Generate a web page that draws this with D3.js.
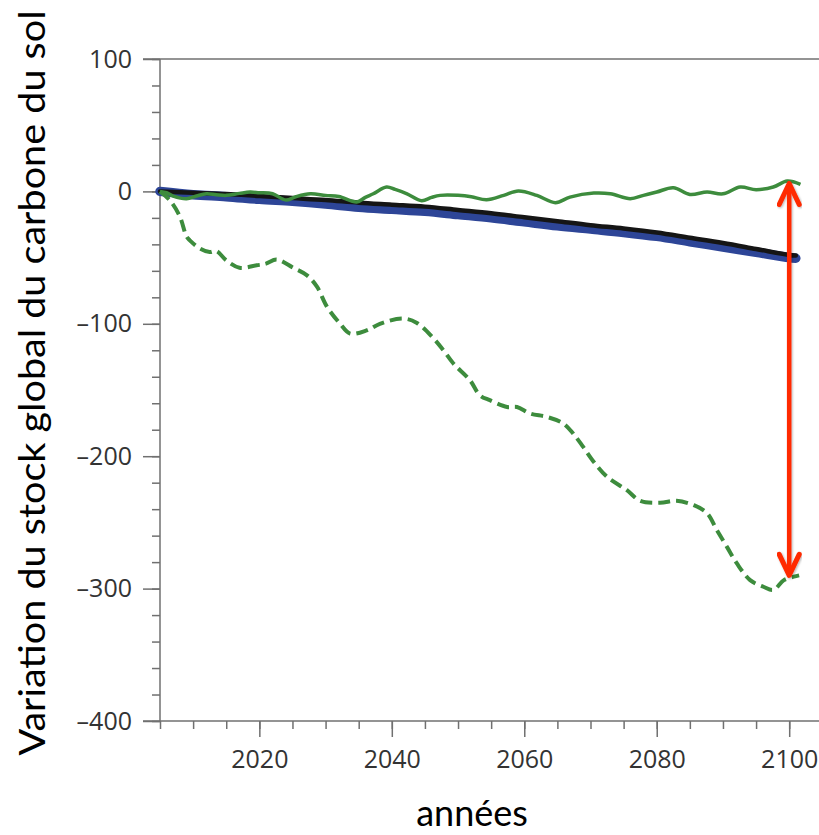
<!DOCTYPE html>
<html>
<head>
<meta charset="utf-8">
<script src="https://cdn.jsdelivr.net/npm/d3@7"></script>
<style>
  body { margin: 0; background: #fff; }
  svg { display: block; }
</style>
</head>
<body>
<div id="chart"></div>
<script>
// values (years, Pg C change)
var trendYears  = [2005, 2010, 2015, 2020, 2025, 2030, 2035, 2040, 2045, 2050, 2055, 2060, 2065, 2070, 2075, 2080, 2085, 2090, 2095, 2100, 2101];
var blackValues = [0, -1, -2, -3.5, -5, -6.5, -8.5, -10, -11.5, -14, -16.5, -19.5, -22.5, -25.5, -28, -31, -35, -39, -43.5, -48, -48.5];
var blueValues  = [0, -2.5, -4, -6, -7.5, -9.5, -12, -13.5, -15, -17.5, -20, -23, -26, -28.5, -31, -34, -38, -42, -46, -50, -50.5];

var solidYears  = [2005, 2006, 2007, 2009, 2010.5, 2012, 2013.5, 2015, 2017, 2018.6, 2020, 2022, 2024, 2025.5, 2027.7, 2030, 2032, 2034.7, 2036, 2037.2, 2039.2, 2040.5, 2042.3, 2044.5, 2046, 2047.3, 2050, 2052, 2054.3, 2056.9, 2059.1, 2061.9, 2064.7, 2066.9, 2070.5, 2073, 2076, 2078, 2080, 2082.5, 2085, 2087.6, 2090, 2092.6, 2095, 2097.6, 2099.7, 2101.7];
var solidValues = [0, -1, -3.5, -5.5, -3.5, -1.8, -2.5, -3, -1.5, -0.5, -1, -1.8, -6.5, -4, -1.8, -3, -3.8, -8, -4.5, -1.8, 3.3, 1.5, -1.8, -7, -4.5, -3, -3, -4, -6.3, -3, 0.3, -3, -8.5, -4.3, -1.3, -1.8, -5.5, -3, -0.5, 2.8, -2.3, -0.5, -1.8, 3.3, 1.3, 3.3, 7.8, 5.3];

var dashedYears  = [2005, 2006.5, 2008, 2009, 2009.5, 2011, 2012.5, 2013.5, 2015, 2017, 2019.6, 2021, 2022.6, 2025.1, 2027.2, 2028.7, 2030.2, 2032.2, 2033.7, 2036.2, 2038.2, 2041.7, 2043.8, 2046.3, 2047.8, 2049.3, 2051.8, 2053.3, 2054.8, 2057.4, 2058.9, 2060.9, 2063.4, 2065.9, 2067.4, 2068.9, 2070.5, 2072.5, 2075.5, 2077.5, 2080.5, 2083, 2085.6, 2087.6, 2089.1, 2090.6, 2092.1, 2094.1, 2096.1, 2097.6, 2099.2, 2100.7, 2101.5];
var dashedValues = [0, -6.8, -19, -34, -37, -43, -45.8, -45, -52, -57.6, -55.8, -54.6, -51.5, -57.6, -63.4, -72, -87, -100, -107.4, -105, -100, -96, -99.4, -111, -120, -130, -142.6, -154, -157.7, -162.8, -162.8, -167.8, -170.3, -175.3, -183, -193, -204.3, -215.6, -225.7, -233.7, -235.2, -233.7, -237, -243, -256, -268.5, -281, -293.6, -298.6, -301, -293.6, -291, -290];

// red arrow: gap between the two green runs in 2100
var arrowYear = 2100, arrowFrom = 6, arrowTo = -290;

var xMajor = [2020, 2040, 2060, 2080, 2100];
var yMajor = [100, 0, -100, -200, -300, -400];

var width = 819, height = 835;

var svg = d3.select("#chart").append("svg")
    .attr("width", width)
    .attr("height", height);

var x = d3.scaleLinear().domain([2005, 2104.5]).range([160, 819]);
var y = d3.scaleLinear().domain([-400, 100]).range([721, 59]);

var axisColor = "#707070";
var tickFont = "'Open Sans', 'Noto Sans', sans-serif";

// frame lines (top and bottom) stick out left of the y axis
svg.append("line")
    .attr("x1", 143).attr("x2", width)
    .attr("y1", y(100)).attr("y2", y(100))
    .attr("stroke", axisColor).attr("stroke-width", 1.5);

// x axis: minor ticks every 5 yrs, long ones every 20
var xMinorTicks = d3.range(2005, 2101, 5);
svg.append("g")
    .attr("transform", "translate(0," + y(-400) + ")")
    .call(d3.axisBottom(x).tickValues(xMinorTicks).tickSize(8).tickSizeOuter(0).tickFormat(""))
    .call(function (g) { g.select(".domain").remove(); })
    .selectAll("line").attr("stroke", axisColor).attr("stroke-width", 1.5);

var xAx = svg.append("g")
    .attr("transform", "translate(0," + y(-400) + ")")
    .call(d3.axisBottom(x).tickValues(xMajor).tickSize(16).tickSizeOuter(0).tickFormat(d3.format("d")));
xAx.select(".domain").remove();
xAx.selectAll("line").attr("stroke", axisColor).attr("stroke-width", 1.5);
xAx.selectAll("text")
    .attr("y", 47).attr("dy", 0)
    .attr("fill", "#333")
    .style("font-family", tickFont)
    .style("font-size", "25px");

svg.append("line")
    .attr("x1", 143).attr("x2", width)
    .attr("y1", y(-400)).attr("y2", y(-400))
    .attr("stroke", axisColor).attr("stroke-width", 1.5);

// y axis
var yMinorTicks = d3.range(-400, 101, 20);
svg.append("g")
    .attr("transform", "translate(" + x(2005) + ",0)")
    .call(d3.axisLeft(y).tickValues(yMinorTicks).tickSize(8).tickSizeOuter(0).tickFormat(""))
    .call(function (g) { g.select(".domain").remove(); })
    .selectAll("line").attr("stroke", axisColor).attr("stroke-width", 1.5);

var yAx = svg.append("g")
    .attr("transform", "translate(" + x(2005) + ",0)")
    .call(d3.axisLeft(y).tickValues(yMajor).tickSize(17).tickSizeOuter(0)
        .tickFormat(function (d) { return d < 0 ? "\u2013" + Math.abs(d) : d; }));
yAx.select(".domain").remove();
yAx.selectAll("line").attr("stroke", axisColor).attr("stroke-width", 1.5);
yAx.selectAll("text")
    .attr("x", -28)
    .attr("fill", "#333")
    .style("font-family", tickFont)
    .style("font-size", "25px");

svg.append("line")
    .attr("x1", x(2005)).attr("x2", x(2005))
    .attr("y1", y(100)).attr("y2", y(-400))
    .attr("stroke", axisColor).attr("stroke-width", 1.5);

// series
var line = d3.line()
    .x(function (d) { return x(d[0]); })
    .y(function (d) { return y(d[1]); })
    .curve(d3.curveCatmullRom);

var blueData = d3.zip(trendYears, blueValues);
var blackData = d3.zip(trendYears, blackValues);
var solidData = d3.zip(solidYears, solidValues);
var dashedData = d3.zip(dashedYears, dashedValues);

svg.append("path").datum(blueData)
    .attr("d", line)
    .attr("fill", "none").attr("stroke", "#2d4597")
    .attr("stroke-width", 9.5).attr("stroke-linecap", "round");

svg.append("path").datum(blackData)
    .attr("d", line)
    .attr("fill", "none").attr("stroke", "#151515")
    .attr("stroke-width", 4.5).attr("stroke-linecap", "round");

svg.append("path").datum(solidData)
    .attr("d", line)
    .attr("fill", "none").attr("stroke", "#3d8c3d")
    .attr("stroke-width", 3.5).attr("stroke-linejoin", "round");

svg.append("path").datum(dashedData)
    .attr("d", line)
    .attr("fill", "none").attr("stroke", "#3d8c3d")
    .attr("stroke-width", 4)
    .attr("stroke-dasharray", "12,6");

// double arrow
var defs = svg.append("defs");
defs.append("filter").attr("id", "shadow")
    .append("feDropShadow")
    .attr("dx", 1).attr("dy", 1).attr("stdDeviation", 1.2)
    .attr("flood-color", "#000").attr("flood-opacity", 0.3);

var ax = x(arrowYear), ay1 = y(arrowFrom), ay2 = y(arrowTo);
var arrow = svg.append("g")
    .attr("filter", "url(#shadow)")
    .attr("stroke", "#ff2a00").attr("fill", "none")
    .attr("stroke-linecap", "round").attr("stroke-linejoin", "round");
arrow.append("line")
    .attr("x1", ax).attr("x2", ax)
    .attr("y1", ay1 + 2).attr("y2", ay2 - 2)
    .attr("stroke-width", 4.5);
arrow.append("path")
    .attr("d", "M" + (ax - 10) + "," + (ay1 + 21) + "L" + ax + "," + ay1 + "L" + (ax + 10) + "," + (ay1 + 21))
    .attr("stroke-width", 5);
arrow.append("path")
    .attr("d", "M" + (ax - 10) + "," + (ay2 - 21) + "L" + ax + "," + ay2 + "L" + (ax + 10) + "," + (ay2 - 21))
    .attr("stroke-width", 5);

// axis titles
var titleFont = "Lato, 'Open Sans', sans-serif";
svg.append("text")
    .attr("transform", "translate(45,383) rotate(-90)")
    .attr("text-anchor", "middle")
    .attr("textLength", 745)
    .attr("lengthAdjust", "spacingAndGlyphs")
    .style("font-family", titleFont)
    .style("font-size", "37px")
    .attr("fill", "#000")
    .text("Variation du stock global du carbone du sol");

svg.append("text")
    .attr("x", 472).attr("y", 826)
    .attr("text-anchor", "middle")
    .style("font-family", titleFont)
    .style("font-size", "36px")
    .attr("fill", "#000")
    .text("années");
</script>
</body>
</html>
